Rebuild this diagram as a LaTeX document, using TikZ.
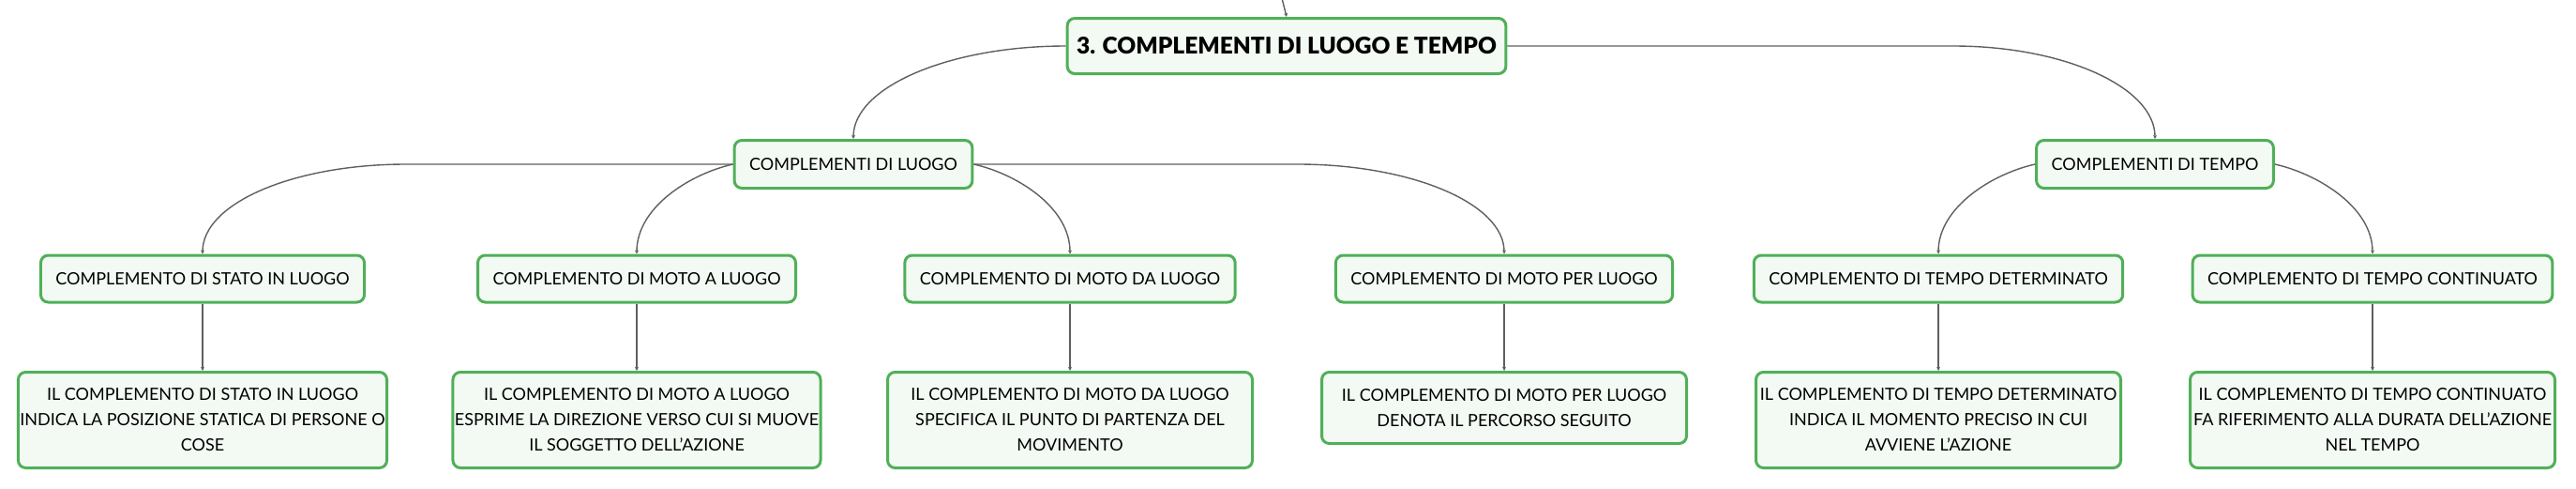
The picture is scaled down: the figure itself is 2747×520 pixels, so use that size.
\documentclass[tikz,border=0pt]{standalone}
\usepackage{fontspec}
\setmainfont{Lato}
\newfontfamily\latoblack{Lato Black}
\usepackage{tikz}
\usetikzlibrary{calc}
\usetikzlibrary{arrows.meta}
\definecolor{MyGreen}{RGB}{80,176,88}
\definecolor{MyPale}{RGB}{243,250,244}
\definecolor{MyGrey}{RGB}{95,95,95}
\newcommand{\titolo}[1]{{\fontsize{24.5}{30}\selectfont\latoblack #1}}

\tikzset{
  box/.style={draw=MyGreen, line width=3pt, fill=MyPale, rounded corners=8pt,
    font=\fontsize{18}{27}\selectfont, minimum height=50pt, inner xsep=16pt},
  descbox/.style={box, anchor=north, align=center, minimum width=389pt, inner xsep=2pt},
  link/.style={draw=MyGrey, line width=1.4pt, -{Stealth[length=4pt,width=4pt]}},
}

\begin{document}
\begin{tikzpicture}[x=1pt, y=-1pt]
        \useasboundingbox (0,0) rectangle (2747,520);
        \node[box, minimum width=467pt, minimum height=59pt, inner xsep=10pt] (radice) at (1372,49) {\titolo{3. COMPLEMENTI DI LUOGO E TEMPO}};
        \coordinate (sopra) at (1367,-2);
        \node[box, minimum height=51pt] (luogo) at (910,175) {COMPLEMENTI DI LUOGO};
        \node[box, minimum height=51pt] (tempo) at (2298,175) {COMPLEMENTI DI TEMPO};

        \node[box] (stato) at (216,297) {COMPLEMENTO DI STATO IN LUOGO};
        \node[box] (motoa) at (679,297) {COMPLEMENTO DI MOTO A LUOGO};
        \node[box] (motoda) at (1141,297) {COMPLEMENTO DI MOTO DA LUOGO};
        \node[box] (motoper) at (1604,297) {COMPLEMENTO DI MOTO PER LUOGO};
        \node[box] (tempodet) at (2067,297) {COMPLEMENTO DI TEMPO DETERMINATO};
        \node[box] (tempocont) at (2530,297) {COMPLEMENTO DI TEMPO CONTINUATO};

        \node[descbox, minimum height=102pt] (statodesc) at (216,395) {IL COMPLEMENTO DI STATO IN LUOGO\\INDICA LA POSIZIONE STATICA DI PERSONE O\\COSE};
        \node[descbox, minimum height=102pt] (motoadesc) at (679,395) {IL COMPLEMENTO DI MOTO A LUOGO\\ESPRIME LA DIREZIONE VERSO CUI SI MUOVE\\IL SOGGETTO DELL'AZIONE};
        \node[descbox, minimum height=102pt] (motodadesc) at (1141,395) {IL COMPLEMENTO DI MOTO DA LUOGO\\SPECIFICA IL PUNTO DI PARTENZA DEL\\MOVIMENTO};
        \node[descbox, minimum height=76pt] (motoperdesc) at (1604,395) {IL COMPLEMENTO DI MOTO PER LUOGO\\DENOTA IL PERCORSO SEGUITO};
        \node[descbox, minimum height=102pt] (tempodetdesc) at (2067,395) {IL COMPLEMENTO DI TEMPO DETERMINATO\\INDICA IL MOMENTO PRECISO IN CUI\\AVVIENE L'AZIONE};
        \node[descbox, minimum height=102pt] (tempocontdesc) at (2530,395) {IL COMPLEMENTO DI TEMPO CONTINUATO\\FA RIFERIMENTO ALLA DURATA DELL'AZIONE\\NEL TEMPO};

        \draw[link] (sopra) -- (radice.north);
        \draw[link] (radice.west) .. controls +(-125,0) and +(0,-55) .. (luogo.north);
        \draw[link] (radice.east) -- ($(radice.east -| tempo.north)+(-215,0)$) .. controls +(118,0) and +(0,-55) .. (tempo.north);

        \draw[link] (luogo.west) -- ($(luogo.west -| stato.north)+(217,0)$) .. controls +(-120,0) and +(0,-54) .. (stato.north);
        \draw[link] (luogo.west) .. controls +(-45,10) and +(0,-50) .. (motoa.north);
        \draw[link] (luogo.east) .. controls +(45,10) and +(0,-50) .. (motoda.north);
        \draw[link] (luogo.east) -- ($(luogo.east -| motoper.north)+(-220,0)$) .. controls +(120,0) and +(0,-54) .. (motoper.north);
        \draw[link] (tempo.west) .. controls +(-45,10) and +(0,-50) .. (tempodet.north);
        \draw[link] (tempo.east) .. controls +(45,10) and +(0,-50) .. (tempocont.north);

        \draw[link] (stato.south) -- (statodesc.north);
        \draw[link] (motoa.south) -- (motoadesc.north);
        \draw[link] (motoda.south) -- (motodadesc.north);
        \draw[link] (motoper.south) -- (motoperdesc.north);
        \draw[link] (tempodet.south) -- (tempodetdesc.north);
        \draw[link] (tempocont.south) -- (tempocontdesc.north);
      \end{tikzpicture}
\end{document}
